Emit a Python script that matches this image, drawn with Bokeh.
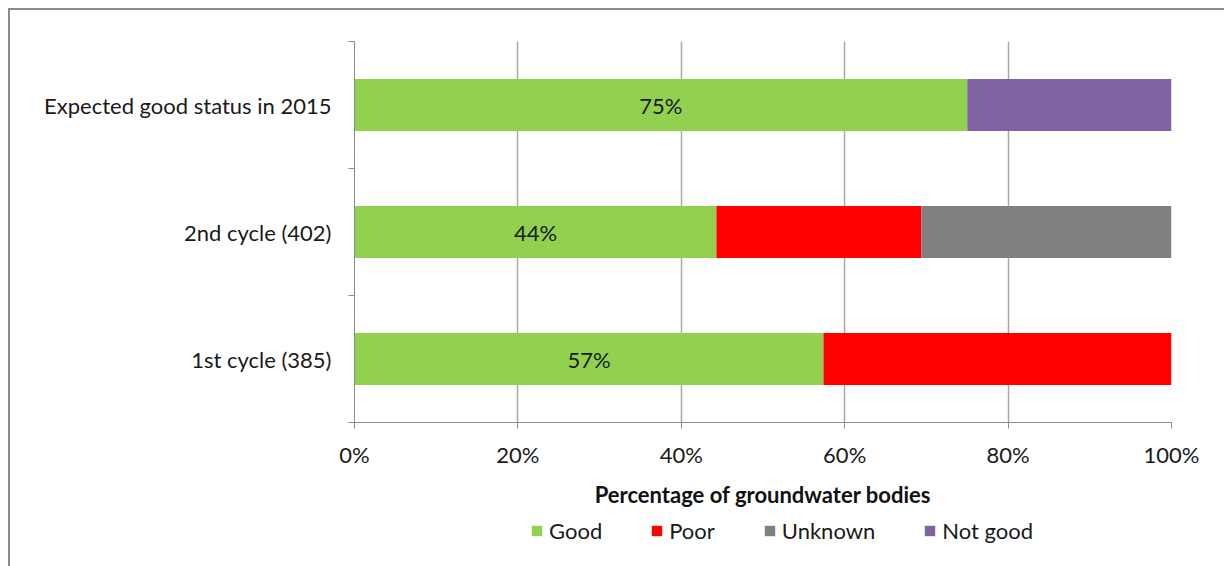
from bokeh.plotting import figure
from bokeh.layouts import column
from bokeh.models import (ColumnDataSource, Range1d, FixedTicker, PrintfTickFormatter,
                          Legend, LegendItem)
from bokeh.embed import file_html
from bokeh.resources import INLINE
from bokeh.core.properties import value

# ---- data ----
categories = ["1st cycle (385)", "2nd cycle (402)", "Expected good status in 2015"]
series = ["Good", "Poor", "Unknown", "Not good"]
good = [57.4, 44.3, 75.0]
poor = [42.6, 25.1, 0.0]
unknown = [0.0, 30.6, 0.0]
not_good = [0.0, 0.0, 25.0]
x_ticks = [0, 20, 40, 60, 80, 100]
colors = ["#92D050", "#FF0000", "#808080", "#8064A2"]

FONT = "Lato"
FS = "22px"
TXT = "#1a1a1a"
GRAY = "#8c8c8c"

ypos = [i + 0.5 for i in range(len(categories))]
source = ColumnDataSource(dict(
    y=ypos, Good=good, Poor=poor, Unknown=unknown, **{"Not good": not_good},
    lx=[g / 2 for g in good], lt=["%d%%" % round(g) for g in good],
))

p = figure(width=1214, height=500, x_range=Range1d(0, 100), y_range=Range1d(0, len(categories)),
           output_backend="svg", toolbar_location=None,
           min_border_left=344, min_border_right=53, min_border_top=31, min_border_bottom=85)
p.outline_line_color = None
p.background_fill_color = "white"
p.border_fill_color = "white"

p.hbar_stack(series, y="y", height=0.41, color=colors, line_color=None, source=source)

p.text(x="lx", y="y", text="lt", source=source, text_align="center", text_baseline="middle",
       text_font=value(FONT), text_font_size=FS, text_color=TXT)

# grid
p.ygrid.visible = False
p.xgrid.ticker = FixedTicker(ticks=x_ticks)
p.xgrid.grid_line_color = "#a8a8a8"
p.xgrid.grid_line_width = 1.5

# x axis
xa = p.xaxis[0]
xa.ticker = FixedTicker(ticks=x_ticks, minor_ticks=[])
xa.formatter = PrintfTickFormatter(format="%d%%")
xa.axis_line_color = GRAY
xa.major_tick_line_color = GRAY
xa.major_tick_in = 0
xa.major_tick_out = 6
xa.minor_tick_line_color = None
xa.major_label_text_font = FONT
xa.major_label_text_font_size = FS
xa.major_label_text_color = TXT
xa.major_label_standoff = 12
xa.axis_label = "Percentage of groundwater bodies"
xa.axis_label_text_font = FONT
xa.axis_label_text_font_size = FS
xa.axis_label_text_font_style = "bold"
xa.axis_label_text_color = "#111111"
xa.axis_label_standoff = 10

# y axis
ya = p.yaxis[0]
ya.ticker = FixedTicker(ticks=ypos, minor_ticks=list(range(len(categories) + 1)))
ya.major_label_overrides = {y: c for y, c in zip(ypos, categories)}
ya.axis_line_color = GRAY
ya.major_tick_line_color = None
ya.major_tick_in = 0
ya.major_tick_out = 0
ya.minor_tick_line_color = GRAY
ya.minor_tick_in = 0
ya.minor_tick_out = 6
ya.major_label_text_font = FONT
ya.major_label_text_font_size = FS
ya.major_label_text_color = TXT
ya.major_label_standoff = 17

# legend strip below the chart
pl = figure(width=1214, height=56, x_range=Range1d(0, 1), y_range=Range1d(10, 11),
            output_backend="svg", toolbar_location=None, min_border=0)
pl.axis.visible = False
pl.grid.visible = False
pl.outline_line_color = None
pl.border_fill_color = "white"
leg_renderers = pl.hbar_stack(series, y="y", height=0.41, color=colors, line_color=None, source=source)

legend = Legend(items=[LegendItem(label=s, renderers=[r]) for s, r in zip(series, leg_renderers)],
                orientation="horizontal", location=(176, 22),
                border_line_color=None, background_fill_alpha=0,
                label_text_font=FONT, label_text_font_size=FS, label_text_color=TXT,
                glyph_width=13, glyph_height=13, label_standoff=6, spacing=48,
                padding=0, margin=0)
pl.add_layout(legend)

layout = column(p, pl, spacing=0,
                styles={"margin-left": "8px", "margin-top": "8px",
                        "border-left": "2px solid #8a8a8a", "border-top": "2px solid #8a8a8a"})

open("out.html", "w").write(file_html(layout, INLINE))
